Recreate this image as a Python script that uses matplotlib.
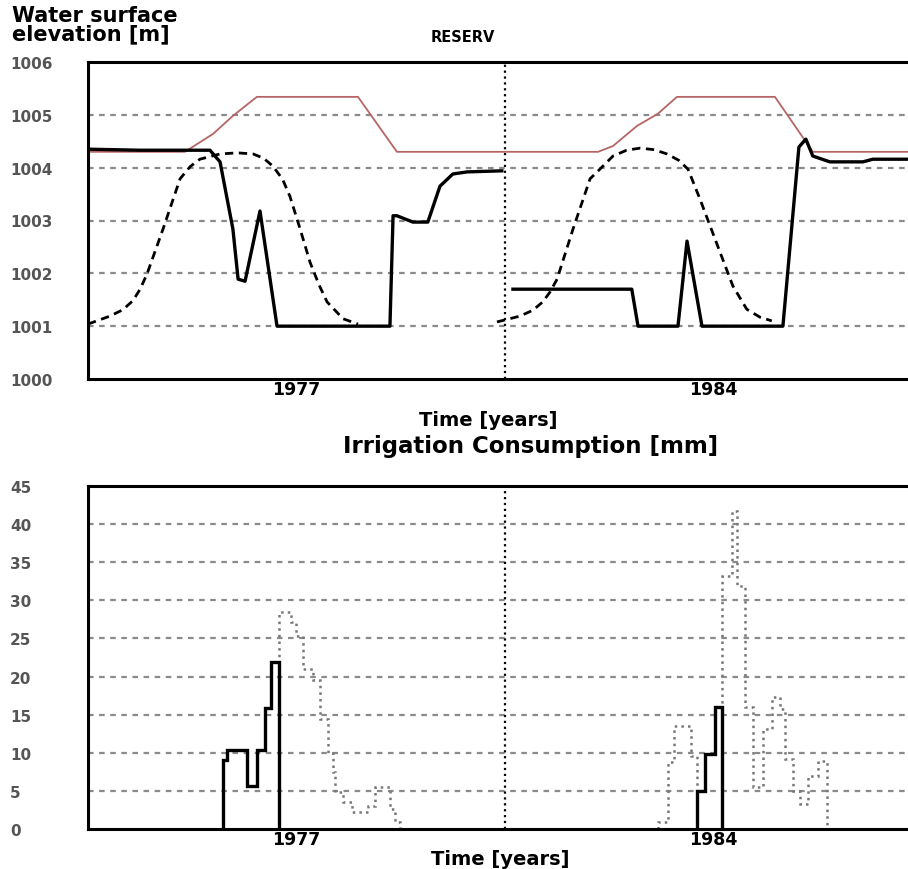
import numpy as np
import matplotlib.pyplot as plt

# x axis in months: 0-12 is the 1977 season, 12-24 the 1984 season
year_ticks = [6, 18]
year_labels = ['1977', '1984']

# --- water surface elevation [m] ---
rule_x = [0, 2.79, 3.60, 4.17, 4.86, 7.77, 8.89, 14.68, 15.11, 15.80, 16.40, 16.95, 19.77, 20.86, 23.6]
rule_y = [1004.30, 1004.30, 1004.64, 1004.98, 1005.34, 1005.34, 1004.30, 1004.30, 1004.41, 1004.79,
          1005.02, 1005.34, 1005.34, 1004.30, 1004.30]

level77_x = [0, 1.50, 3.51, 3.80, 4.17, 4.32, 4.52, 4.95, 5.44, 8.69, 8.78, 8.89, 9.35, 9.78, 10.13,
             10.50, 10.91, 11.91]
level77_y = [1004.35, 1004.33, 1004.33, 1004.11, 1002.84, 1001.89, 1001.85, 1003.18, 1001.0, 1001.0,
             1003.09, 1003.09, 1002.97, 1002.97, 1003.65, 1003.88, 1003.92, 1003.94]

level84_x = [12.23, 15.65, 15.83, 16.98, 17.24, 17.67, 20.00, 20.46, 20.66, 20.86, 21.35, 22.30, 22.59, 23.6]
level84_y = [1001.70, 1001.70, 1001.0, 1001.0, 1002.61, 1001.0, 1001.0, 1004.39, 1004.54, 1004.22,
             1004.11, 1004.11, 1004.16, 1004.16]

sim77_x = [0, 0.63, 1.00, 1.29, 1.50, 1.70, 2.16, 2.65, 2.94, 3.22, 3.80, 4.30, 4.75, 5.05, 5.32, 5.60,
           5.81, 6.10, 6.39, 6.65, 6.88, 7.34, 7.77]
sim77_y = [1001.04, 1001.19, 1001.31, 1001.48, 1001.70, 1001.99, 1002.84, 1003.79, 1004.02, 1004.16,
           1004.26, 1004.28, 1004.26, 1004.18, 1004.03, 1003.78, 1003.46, 1002.85, 1002.21, 1001.78,
           1001.46, 1001.14, 1001.04]

sim84_x = [11.77, 12.43, 12.80, 13.09, 13.30, 13.50, 13.96, 14.45, 14.73, 15.11, 15.50, 15.89, 16.30,
           16.66, 17.00, 17.27, 17.61, 18.19, 18.56, 18.96, 19.34, 19.68]
sim84_y = [1001.08, 1001.19, 1001.30, 1001.46, 1001.65, 1001.89, 1002.84, 1003.79, 1003.97, 1004.22,
           1004.33, 1004.37, 1004.34, 1004.26, 1004.14, 1003.97, 1003.41, 1002.40, 1001.76, 1001.32,
           1001.17, 1001.10]

# --- irrigation consumption [mm] ---
irr77_edges = [3.88, 4.00, 4.58, 4.86, 5.09, 5.27, 5.50]
irr77_vals = [9.0, 10.4, 5.6, 10.4, 15.9, 21.9]
dem77_edges = [5.50, 5.84, 5.99, 6.19, 6.47, 6.68, 6.91, 7.05, 7.11, 7.34, 7.60, 8.06, 8.26, 8.69, 8.83, 8.98]
dem77_vals = [28.5, 27.2, 25.3, 21.0, 19.5, 14.4, 10.0, 7.5, 4.9, 3.5, 2.2, 3.0, 5.5, 2.6, 0.9]

irr84_edges = [17.53, 17.76, 18.04, 18.24]
irr84_vals = [5.0, 9.8, 16.0]
dem84a_edges = [16.40, 16.69, 16.86, 17.35, 17.53]
dem84a_vals = [0.9, 8.8, 13.5, 9.6]
dem84b_edges = [18.24, 18.53, 18.68, 18.91, 19.14, 19.42, 19.68, 19.91, 20.06, 20.29, 20.49, 20.72, 21.01, 21.27]
dem84b_vals = [33.2, 41.7, 31.9, 16.0, 5.5, 13.1, 17.3, 15.7, 9.2, 5.0, 3.3, 7.0, 8.9]

fig = plt.figure(figsize=(9.08, 8.70), dpi=100)
ax1 = fig.add_axes([88 / 908, 1 - 380 / 870, 820 / 908, 317 / 870])
ax2 = fig.add_axes([88 / 908, 1 - 830 / 870, 820 / 908, 343 / 870])

grid_kw = dict(color='#8a8a8a', linestyle=(0, (2.5, 2.5)), linewidth=1.6)


def style_axes(ax, yticks):
    ax.set_xlim(0, 23.6)
    ax.set_yticks(yticks)
    ax.set_yticklabels([str(t) for t in yticks])
    ax.set_xticks(year_ticks)
    ax.set_xticklabels(year_labels, fontsize=12.5, fontweight='bold')
    ax.tick_params(axis='y', length=0, pad=56, labelsize=11, labelcolor='#555555')
    ax.tick_params(axis='x', length=0, pad=1)
    for lbl in ax.get_yticklabels():
        lbl.set_horizontalalignment('left')
        lbl.set_fontweight('bold')
    for s in ['left', 'bottom', 'top']:
        ax.spines[s].set_linewidth(2.2)
    ax.spines['right'].set_visible(False)
    for t in yticks[1:-1]:
        ax.axhline(t, zorder=0, **grid_kw)
    ax.axvline(12, color='black', linestyle=':', linewidth=1.6, zorder=0)


style_axes(ax1, [1000, 1001, 1002, 1003, 1004, 1005, 1006])
ax1.set_ylim(1000, 1006)
ax1.plot(rule_x, rule_y, color='#b56565', linewidth=1.3)
ax1.plot(level77_x, level77_y, color='black', linewidth=2.4)
ax1.plot(level84_x, level84_y, color='black', linewidth=2.4)
ax1.plot(sim77_x, sim77_y, color='black', linewidth=2.0, linestyle=(0, (3, 2)))
ax1.plot(sim84_x, sim84_y, color='black', linewidth=2.0, linestyle=(0, (3, 2)))

style_axes(ax2, list(range(0, 50, 5)))
ax2.set_ylim(0, 45)
for edges, vals in [(dem77_edges, dem77_vals), (dem84a_edges, dem84a_vals), (dem84b_edges, dem84b_vals)]:
    ax2.stairs(vals, edges, baseline=0, color='#777777', linestyle=':', linewidth=1.8)
for edges, vals in [(irr77_edges, irr77_vals), (irr84_edges, irr84_vals)]:
    ax2.stairs(vals, edges, baseline=0, color='black', linewidth=2.4)

fig.text(12 / 908, 1 - 6 / 870, 'Water surface\nelevation [m]', fontsize=15, fontweight='bold',
         ha='left', va='top', linespacing=0.9)
fig.text(463 / 908, 1 - 38 / 870, 'RESERV', fontsize=10.5, fontweight='bold', ha='center', va='center')
fig.text(488 / 908, 1 - 420 / 870, 'Time [years]', fontsize=14, fontweight='bold', ha='center', va='center')
fig.text(531 / 908, 1 - 447 / 870, 'Irrigation Consumption [mm]', fontsize=16.5, fontweight='bold',
         ha='center', va='center')
fig.text(500 / 908, 1 - 860 / 870, 'Time [years]', fontsize=14, fontweight='bold', ha='center', va='center')

fig.savefig('out.png', dpi=100)
